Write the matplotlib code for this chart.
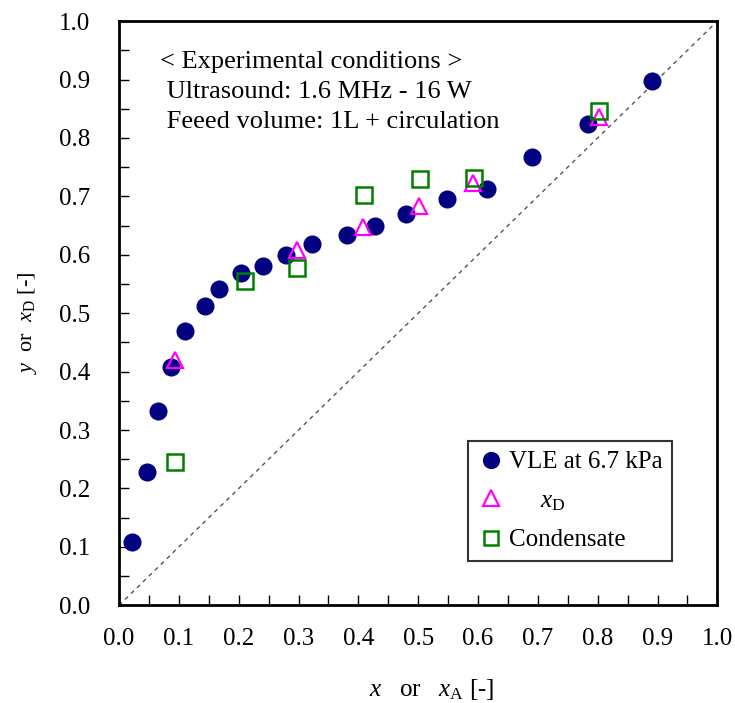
import numpy as np
import matplotlib
matplotlib.use("Agg")
import matplotlib.pyplot as plt
from matplotlib.ticker import MultipleLocator, FormatStrFormatter

# --- fonts: Times-like look ---
plt.rcParams["font.family"] = ["Liberation Serif", "DejaVu Serif"]
plt.rcParams["mathtext.fontset"] = "custom"
plt.rcParams["mathtext.rm"] = "Liberation Serif"
plt.rcParams["mathtext.it"] = "Liberation Serif:italic"

# --- data ---
vle_x = [0.021, 0.046, 0.065, 0.086, 0.111, 0.143, 0.167, 0.203, 0.241, 0.279,
         0.323, 0.381, 0.428, 0.479, 0.548, 0.615, 0.691, 0.783, 0.890]
vle_y = [0.108, 0.229, 0.332, 0.408, 0.469, 0.512, 0.542, 0.568, 0.581, 0.599,
         0.618, 0.633, 0.649, 0.669, 0.695, 0.712, 0.768, 0.823, 0.898]

xd_x = [0.094, 0.298, 0.408, 0.502, 0.591, 0.803]
xd_y = [0.420, 0.608, 0.647, 0.684, 0.723, 0.836]

cond_x = [0.094, 0.210, 0.298, 0.410, 0.503, 0.594, 0.803]
cond_y = [0.245, 0.555, 0.577, 0.702, 0.729, 0.732, 0.846]

conditions = ["< Experimental conditions >",
              " Ultrasound: 1.6 MHz - 16 W",
              " Feeed volume: 1L + circulation"]

# --- figure ---
fig = plt.figure(figsize=(7.35, 7.03), dpi=100)
ax = fig.add_axes([0.162, 0.139, 0.814, 0.831])

ax.plot([0, 1], [0, 1], color="#555555", lw=1.0, ls=(0, (3, 3)), zorder=1)

ax.plot(vle_x, vle_y, "o", ms=12, color="#000080", mec="#000080",
        label="VLE at 6.7 kPa", zorder=2)
ax.plot(xd_x, xd_y, "^", ms=12, mfc="none", mec="#ff00ff", mew=1.6,
        label="     $x_\\mathrm{D}$", zorder=3)
ax.plot(cond_x, cond_y, "s", ms=11, mfc="none", mec="#008000", mew=1.8,
        label="Condensate", zorder=4)

ax.set_xlim(0, 1)
ax.set_ylim(0, 1)

for a in (ax.xaxis, ax.yaxis):
    a.set_major_locator(MultipleLocator(0.1))
    a.set_minor_locator(MultipleLocator(0.05))
    a.set_major_formatter(FormatStrFormatter("%.1f"))

ax.tick_params(which="both", direction="in", length=7, width=1.0,
               top=False, right=False, labelsize=18)
ax.tick_params(axis="x", pad=16)
ax.tick_params(axis="y", pad=21)

for sp in ax.spines.values():
    sp.set_linewidth(2)

ax.set_xlabel("$x$   or   $x_\\mathrm{A}$ [-]", fontsize=18)
ax.set_ylabel("$y$  or  $x_\\mathrm{D}$ [-]", fontsize=16)
ax.xaxis.set_label_coords(0.523, -0.122)
ax.yaxis.set_label_coords(-0.134, 0.483)

# conditions text block
for i, line in enumerate(conditions):
    ax.text(0.068, 0.930 - i * 0.0514, line, fontsize=19,
            transform=ax.transAxes, va="center", ha="left")

leg = ax.legend(loc="lower right", bbox_to_anchor=(0.925, 0.075),
                fontsize=18, frameon=True, fancybox=False,
                edgecolor="black", handletextpad=0.15, borderpad=0.4,
                labelspacing=0.65, markerscale=0.95, handlelength=1.1,
                borderaxespad=0)
leg.get_frame().set_linewidth(1.5)

fig.savefig("out.png", dpi=100)
